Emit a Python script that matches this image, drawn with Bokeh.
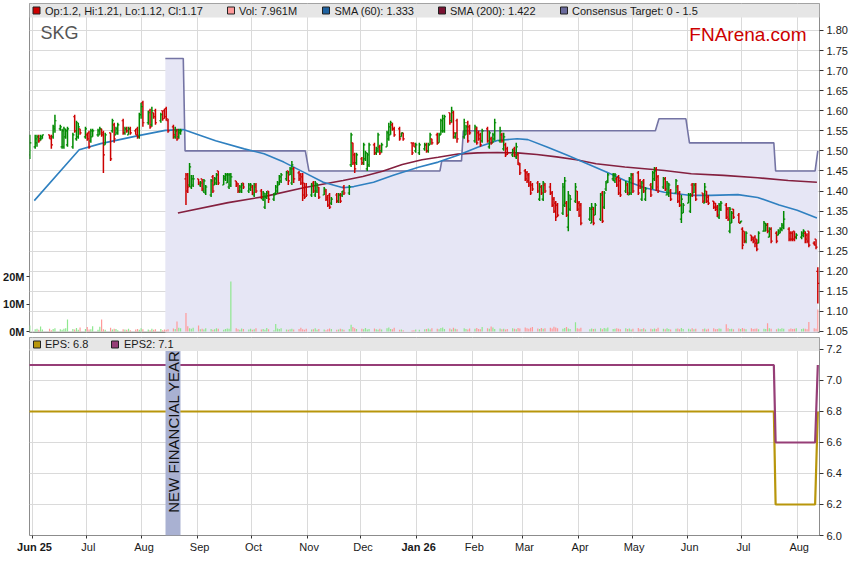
import numpy as np
import pandas as pd
from bokeh.plotting import figure
from bokeh.layouts import column, row
from bokeh.models import (Range1d, LinearAxis, FixedTicker, PrintfTickFormatter,
                          NumeralTickFormatter, BoxAnnotation, Label, ColumnDataSource)
from bokeh.core.properties import value
from bokeh.embed import file_html
from bokeh.resources import INLINE

FONT = "Liberation Sans"

# ---------------- data ----------------
holidays = ["2025-06-09", "2025-12-25", "2025-12-26", "2026-01-01",
            "2026-01-26", "2026-04-03", "2026-04-06", "2026-06-08"]

opens = [
 1.49,1.51,1.52,1.535,1.53,1.53,1.54,1.535,1.535,1.555, 1.555,1.51,1.51,1.535,1.515,1.51,1.585,1.53,1.535,1.555,
 1.535,1.54,1.545,1.525,1.535,1.54,1.54,1.555,1.545,1.515, 1.545,1.55,1.565,1.54,1.545,1.575,1.545,1.555,1.54,1.555,
 1.55,1.555,1.535,1.59,1.62,1.57,1.60,1.565,1.595,1.60, 1.575,1.60,1.60,1.605,1.575,1.56,1.535,1.55,1.535,1.545,
 1.43,1.44,1.415,1.41,1.415,1.43,1.415,1.43,1.40,1.395, 1.39,1.435,1.415,1.42,1.45,1.415,1.43,1.42,
 1.41,1.415,1.425,1.42,1.40,1.40,1.42,1.40,1.405,1.41, 1.39,1.415,1.40,1.38,1.36,1.385,1.40,1.38,1.395,1.40,
 1.415,1.425,1.43,1.45,1.44,1.42,1.455,1.445,1.44,1.435, 1.42,1.41,1.39,1.42,1.39,1.40,1.41,1.39,1.40,1.385,
 1.39,1.37,1.39,1.375,1.39,1.39,1.41,1.395,
 1.465,1.52,1.49,1.47,1.48,1.47,1.48,1.455,1.465,1.515, 1.495,1.50,1.51,1.50,1.51,1.53,1.54,1.565,1.555,1.555,
 1.535,1.545,1.52,1.52,1.50,1.495,
 1.505,1.515,1.50,1.515,1.53,1.54,1.52,1.54,1.55,1.55, 1.595,1.575,1.595,1.535,1.575,1.535,1.54,1.57,1.56,1.525,
 1.555,1.545,1.54,1.525,1.555,1.51,1.53,1.52,1.53,1.525, 1.54,1.505,1.515,1.505,1.49,1.505,1.485,1.49,1.465,1.45,
 1.445,1.44,1.42,1.415,1.42,1.38,1.41,1.38,1.415,1.41, 1.395,1.38,1.37,1.365,1.345,1.365,1.37,1.31,1.355,1.375,
 1.40,1.37,1.365,1.33,1.32,1.355,1.34,1.33,1.395,1.36, 1.405,1.425,1.43,1.425,1.43,
 1.435,1.425,1.40,1.415,1.39,1.395,1.44,1.445,1.425,1.38, 1.425,1.38,1.415,1.41,1.43,1.455,1.435,1.41,1.43,1.39,
 1.39,1.40,1.395,1.41,1.395,1.33,1.345,1.37,1.35,1.415, 1.395,1.415,1.395,1.37,1.40,1.385,1.375,1.37,1.36,1.335,
 1.355,1.365,1.355,1.30,1.32,1.355,1.34,1.32,1.305,1.30, 1.275,1.29,1.285,1.285,1.28,1.27,1.30,1.30,1.315,1.285,
 1.305,1.295,1.29,1.295,1.305,1.31,1.305,1.295,1.295,1.30, 1.285,1.285,1.29,1.295,1.29,1.30,1.27,1.28,1.20]

highs = [
 1.54,1.54,1.54,1.54,1.54,1.54,1.54,1.54,1.565,1.59, 1.565,1.555,1.56,1.555,1.56,1.545,1.59,1.575,1.57,1.555,
 1.56,1.545,1.55,1.555,1.555,1.555,1.56,1.555,1.55,1.545, 1.545,1.58,1.57,1.56,1.57,1.58,1.56,1.56,1.56,1.56,
 1.555,1.56,1.595,1.62,1.625,1.60,1.605,1.61,1.595,1.605, 1.595,1.60,1.605,1.61,1.58,1.565,1.56,1.555,1.555,1.555,
 1.445,1.445,1.47,1.44,1.44,1.43,1.425,1.43,1.43,1.415, 1.43,1.44,1.435,1.445,1.45,1.44,1.445,1.445,
 1.445,1.445,1.425,1.42,1.415,1.42,1.42,1.42,1.42,1.415, 1.42,1.42,1.405,1.40,1.395,1.40,1.40,1.395,1.415,1.425,
 1.44,1.445,1.45,1.45,1.46,1.475,1.46,1.45,1.445,1.445, 1.42,1.42,1.42,1.425,1.425,1.42,1.41,1.41,1.405,1.39,
 1.395,1.385,1.395,1.395,1.395,1.40,1.415,1.415,
 1.545,1.52,1.495,1.495,1.485,1.52,1.50,1.495,1.52,1.52, 1.51,1.545,1.515,1.52,1.55,1.57,1.575,1.57,1.56,1.56,
 1.545,1.545,1.52,1.52,1.52,1.52,
 1.52,1.52,1.52,1.545,1.53,1.545,1.545,1.58,1.59,1.59, 1.595,1.61,1.60,1.545,1.58,1.58,1.565,1.575,1.565,1.565,
 1.56,1.55,1.545,1.555,1.56,1.55,1.535,1.545,1.58,1.56, 1.545,1.545,1.52,1.51,1.505,1.51,1.52,1.495,1.47,1.455,
 1.45,1.445,1.425,1.42,1.425,1.42,1.415,1.425,1.42,1.42, 1.40,1.385,1.375,1.37,1.42,1.435,1.375,1.40,1.39,1.42,
 1.40,1.375,1.37,1.36,1.37,1.36,1.37,1.395,1.40,1.40, 1.425,1.445,1.445,1.445,1.435,
 1.44,1.43,1.425,1.42,1.435,1.445,1.445,1.45,1.43,1.425, 1.43,1.41,1.42,1.45,1.46,1.46,1.44,1.435,1.435,1.425,
 1.42,1.405,1.43,1.415,1.40,1.39,1.37,1.395,1.395,1.42, 1.42,1.42,1.395,1.42,1.40,1.39,1.375,1.37,1.365,1.37,
 1.375,1.37,1.36,1.36,1.35,1.355,1.345,1.325,1.31,1.30, 1.30,1.29,1.285,1.29,1.28,1.30,1.325,1.32,1.32,1.31,
 1.31,1.30,1.305,1.31,1.32,1.35,1.31,1.30,1.30,1.30, 1.295,1.30,1.305,1.30,1.295,1.30,1.275,1.28,1.21]

lows = [
 1.48,1.505,1.51,1.52,1.525,1.53,1.53,1.505,1.53,1.545, 1.55,1.505,1.505,1.53,1.51,1.505,1.545,1.525,1.53,1.54,
 1.53,1.525,1.505,1.52,1.535,1.535,1.54,1.535,1.445,1.515, 1.475,1.545,1.52,1.54,1.54,1.54,1.54,1.545,1.54,1.54,
 1.54,1.53,1.53,1.58,1.56,1.565,1.555,1.56,1.58,1.565, 1.57,1.575,1.58,1.575,1.545,1.53,1.53,1.525,1.53,1.54,
 1.365,1.395,1.41,1.405,1.41,1.415,1.41,1.40,1.395,1.39, 1.385,1.395,1.415,1.415,1.415,1.415,1.425,1.42,
 1.405,1.41,1.41,1.395,1.395,1.395,1.405,1.395,1.40,1.39, 1.385,1.395,1.38,1.375,1.355,1.38,1.37,1.375,1.39,1.395,
 1.415,1.42,1.425,1.415,1.44,1.415,1.42,1.425,1.415,1.375, 1.38,1.385,1.385,1.395,1.385,1.395,1.38,1.39,1.375,1.36,
 1.355,1.365,1.37,1.37,1.37,1.385,1.39,1.39,
 1.46,1.465,1.445,1.465,1.465,1.465,1.475,1.45,1.46,1.49, 1.49,1.495,1.49,1.495,1.51,1.525,1.54,1.55,1.535,1.525,
 1.535,1.525,1.49,1.51,1.495,1.49,
 1.50,1.495,1.495,1.515,1.515,1.515,1.52,1.54,1.545,1.545, 1.565,1.57,1.53,1.53,1.52,1.53,1.54,1.52,1.54,1.52,
 1.515,1.525,1.51,1.52,1.52,1.505,1.515,1.52,1.525,1.52, 1.52,1.50,1.485,1.49,1.485,1.485,1.48,1.465,1.44,1.425,
 1.42,1.41,1.39,1.40,1.395,1.375,1.39,1.375,1.395,1.39, 1.36,1.345,1.325,1.335,1.34,1.36,1.335,1.30,1.35,1.37,
 1.35,1.335,1.315,1.325,1.32,1.315,1.34,1.325,1.32,1.355, 1.40,1.42,1.425,1.42,1.41,
 1.39,1.385,1.395,1.39,1.39,1.39,1.395,1.39,1.405,1.375, 1.395,1.375,1.385,1.405,1.425,1.40,1.395,1.405,1.40,1.39,
 1.385,1.375,1.395,1.37,1.36,1.32,1.345,1.37,1.345,1.385, 1.395,1.375,1.37,1.37,1.37,1.365,1.355,1.35,1.335,1.33,
 1.35,1.33,1.325,1.295,1.32,1.33,1.32,1.32,1.255,1.27, 1.27,1.275,1.27,1.26,1.25,1.27,1.30,1.30,1.295,1.285,
 1.27,1.27,1.29,1.295,1.30,1.305,1.275,1.275,1.275,1.275, 1.28,1.28,1.285,1.27,1.27,1.26,1.265,1.255,1.12]

closes = [
 1.52,1.53,1.535,1.525,1.535,1.54,1.53,1.515,1.56,1.575, 1.56,1.55,1.555,1.55,1.555,1.54,1.55,1.57,1.56,1.545,
 1.555,1.53,1.51,1.55,1.55,1.55,1.555,1.54,1.49,1.54, 1.48,1.575,1.53,1.555,1.565,1.545,1.555,1.55,1.555,1.545,
 1.54,1.535,1.59,1.61,1.57,1.595,1.56,1.60,1.585,1.57, 1.59,1.58,1.585,1.58,1.55,1.54,1.55,1.53,1.55,1.55,
 1.40,1.41,1.46,1.43,1.43,1.42,1.42,1.405,1.425,1.41, 1.425,1.40,1.43,1.44,1.42,1.435,1.44,1.44,
 1.44,1.435,1.415,1.40,1.41,1.415,1.41,1.415,1.415,1.395, 1.41,1.40,1.385,1.395,1.385,1.395,1.38,1.39,1.41,1.42,
 1.435,1.44,1.445,1.425,1.455,1.465,1.43,1.43,1.42,1.39, 1.385,1.39,1.415,1.40,1.42,1.415,1.385,1.405,1.38,1.365,
 1.36,1.38,1.375,1.39,1.375,1.40,1.395,1.41,
 1.54,1.47,1.455,1.49,1.47,1.515,1.495,1.49,1.515,1.495, 1.505,1.54,1.495,1.515,1.545,1.56,1.57,1.555,1.54,1.53,
 1.545,1.53,1.495,1.51,1.515,1.515,
 1.515,1.50,1.515,1.54,1.52,1.52,1.54,1.575,1.58,1.585, 1.57,1.60,1.545,1.545,1.53,1.57,1.56,1.525,1.545,1.56,
 1.52,1.53,1.515,1.55,1.525,1.545,1.52,1.54,1.57,1.55, 1.525,1.535,1.49,1.495,1.50,1.49,1.51,1.47,1.445,1.43,
 1.425,1.415,1.395,1.405,1.40,1.41,1.395,1.42,1.40,1.395, 1.365,1.35,1.335,1.34,1.41,1.425,1.34,1.39,1.38,1.41,
 1.355,1.34,1.32,1.355,1.36,1.32,1.365,1.39,1.325,1.395, 1.42,1.44,1.44,1.44,1.415,
 1.395,1.39,1.42,1.395,1.43,1.44,1.40,1.395,1.41,1.42, 1.40,1.405,1.39,1.445,1.45,1.41,1.40,1.43,1.405,1.42,
 1.415,1.38,1.425,1.375,1.365,1.38,1.365,1.39,1.39,1.39, 1.415,1.38,1.375,1.41,1.375,1.37,1.36,1.355,1.34,1.365,
 1.37,1.335,1.33,1.355,1.345,1.335,1.32,1.325,1.265,1.275, 1.295,1.28,1.275,1.27,1.255,1.295,1.32,1.315,1.30,1.305,
 1.275,1.275,1.30,1.305,1.315,1.33,1.28,1.28,1.28,1.285, 1.29,1.295,1.30,1.28,1.275,1.265,1.265,1.26,1.17]

volumes_m = [
 2.2,0.8,1.0,0.6,1.8,0.7,1.0,0.5,0.9,1.2, 0.8,0.6,1.0,1.2,4.4,0.9,0.7,1.3,0.6,1.5,
 0.9,1.6,0.7,0.8,1.9,0.6,1.7,4.4,0.8,0.6, 1.4,0.7,1.0,0.9,0.5,0.8,0.7,0.6,1.0,0.5,
 0.7,0.9,0.6,1.2,0.8,0.7,0.5,1.0,0.6,0.8, 0.9,0.5,0.7,0.6,0.8,1.1,0.9,3.6,1.4,1.2,
 6.7,1.9,1.2,1.0,1.4,2.2,0.8,1.0,0.7,1.2, 0.9,0.6,0.8,1.2,1.0,0.6,0.9,1.1,
 1.0,18.2,1.2,0.8,0.6,1.1,0.9,0.7,1.0,0.6, 0.8,1.2,0.7,0.9,0.6,1.3,0.8,0.5,2.7,1.1,
 0.9,1.2,0.7,0.6,0.8,1.0,0.7,0.9,1.4,0.8, 0.6,1.0,0.7,0.8,1.2,0.6,0.9,0.7,0.5,0.8,
 1.1,0.9,0.6,0.7,1.0,0.8,0.6,0.9,
 2.5,1.6,1.2,0.9,1.0,0.8,1.3,0.7,0.9,1.1, 0.8,0.6,1.0,0.7,1.2,1.5,0.9,0.8,1.4,0.6,
 0.7,0.5,0.4,0.5,0.7,0.6,
 0.8,0.9,1.1,0.7,1.2,1.0,0.8,1.3,1.5,0.9, 1.1,0.7,1.4,1.0,0.8,1.2,0.9,0.7,1.1,1.0,
 1.3,0.9,0.8,1.6,1.2,1.0,1.8,1.5,0.9,1.1, 0.8,1.0,0.7,0.9,1.2,1.0,0.8,1.3,1.1,1.5,
 1.2,1.0,1.4,1.6,1.1,0.9,1.3,1.0,1.2,1.4, 1.1,1.7,1.5,1.2,1.0,1.3,1.6,1.1,0.9,3.4,
 1.2,1.0,1.4,0.8,1.1,0.9,1.0,1.2,0.8,1.3, 1.1,1.5,0.9,1.0,1.2,
 1.0,0.8,1.2,0.9,1.1,0.7,1.0,1.3,0.8,0.9, 1.2,0.7,1.0,0.8,1.1,0.9,1.4,1.0,0.8,1.2,
 0.9,0.7,1.0,1.1,0.8,1.3,0.9,1.0,0.7,1.2, 0.8,1.0,0.9,1.1,0.7,1.0,1.2,0.8,0.9,1.1,
 1.0,2.6,1.2,0.9,1.0,0.8,1.1,0.9,1.3,1.0, 0.8,1.2,0.9,1.0,1.1,0.8,1.0,0.9,3.0,1.2,
 1.0,0.8,1.1,0.9,1.2,1.0,0.8,1.1,0.9,1.0, 1.2,0.9,1.1,1.0,0.8,3.5,1.2,1.0,7.961]

sma60_dates = ["2025-06-02","2025-06-27","2025-07-09","2025-07-30","2025-08-14","2025-08-24",
               "2025-09-11","2025-09-27","2025-10-08","2025-10-19","2025-10-30","2025-11-10",
               "2025-11-21","2025-11-27","2025-12-08","2025-12-19","2026-01-02","2026-01-13",
               "2026-01-24","2026-02-04","2026-02-15","2026-02-26","2026-03-04","2026-03-15",
               "2026-03-26","2026-04-06","2026-04-17","2026-04-27","2026-05-08","2026-05-19",
               "2026-06-03","2026-06-14","2026-06-29","2026-07-10","2026-07-22","2026-08-01",
               "2026-08-12"]
sma60_vals = [1.376,1.503,1.518,1.538,1.551,1.553,1.525,1.505,1.493,1.472,1.447,1.422,
              1.408,1.411,1.422,1.439,1.459,1.472,1.489,1.509,1.526,1.530,1.528,1.509,
              1.489,1.468,1.447,1.426,1.408,1.397,1.389,1.389,1.391,1.384,1.365,1.352,1.333]

sma200_dates = ["2025-08-21","2025-09-18","2025-10-08","2025-10-30","2025-11-21","2025-12-02",
                "2025-12-13","2025-12-24","2026-01-04","2026-01-13","2026-01-24","2026-02-04",
                "2026-02-15","2026-02-26","2026-03-09","2026-03-20","2026-03-31","2026-04-11",
                "2026-04-27","2026-05-19","2026-06-03","2026-06-21","2026-07-10","2026-07-27",
                "2026-08-12"]
sma200_vals = [1.345,1.371,1.386,1.408,1.426,1.436,1.449,1.466,1.478,1.484,1.492,1.495,
               1.496,1.495,1.491,1.485,1.478,1.468,1.460,1.451,1.443,1.439,1.433,1.426,1.422]

target_dates = ["2025-08-14","2025-08-24","2025-08-25","2025-10-31","2025-11-02","2026-01-14",
                "2026-01-15","2026-01-26","2026-01-27","2026-05-14","2026-05-16","2026-05-31",
                "2026-06-02","2026-07-19","2026-07-20","2026-08-11","2026-08-12T12:00"]
target_vals = [1.73,1.73,1.50,1.50,1.45,1.45,1.475,1.475,1.55,1.55,1.58,1.58,
               1.52,1.52,1.45,1.45,1.50]

eps_dates = ["2025-05-29","2026-07-19","2026-07-20","2026-08-11","2026-08-12T12:00"]
eps_vals = [6.8, 6.8, 6.2, 6.2, 6.8]
eps2_vals = [7.1, 7.1, 6.6, 6.6, 7.1]

price_ticks = [1.05,1.10,1.15,1.20,1.25,1.30,1.35,1.40,1.45,1.50,1.55,1.60,1.65,1.70,1.75,1.80]
eps_ticks = [6.0,6.2,6.4,6.6,6.8,7.0,7.2]
vol_ticks = [0, 10, 20]
month_starts = ["2025-06-01","2025-07-01","2025-08-01","2025-09-01","2025-10-01","2025-11-01",
                "2025-12-01","2026-01-01","2026-02-01","2026-03-01","2026-04-01","2026-05-01",
                "2026-06-01","2026-07-01","2026-08-01"]
month_labels = ["Jun 25","Jul","Aug","Sep","Oct","Nov","Dec","Jan 26","Feb","Mar","Apr",
                "May","Jun","Jul","Aug"]
bold_labels = {"Jun 25", "Jan 26"}

# ---------------- helpers ----------------
def at(px):
    """page pixel column -> date (used only to place decorations)"""
    return pd.Timestamp("2025-06-01") + pd.Timedelta(days=(px - 34) / 1.795)

def ms(ts):
    return pd.Timestamp(ts).value / 1e6

def to_dt(lst):
    return pd.DatetimeIndex([pd.Timestamp(s) for s in lst])

def style_axis(ax, size="11px", bold=False, standoff=3):
    ax.axis_line_color = None
    ax.major_tick_line_color = "#333333"
    ax.major_tick_out = 4
    ax.major_tick_in = 0
    ax.minor_tick_line_color = None
    ax.major_label_text_font = FONT
    ax.major_label_text_font_size = size
    ax.major_label_text_color = "#1a1a1a"
    ax.major_label_standoff = standoff
    if bold:
        ax.major_label_text_font_style = "bold"

days = pd.bdate_range("2025-05-30", "2026-08-12")
days = days[~days.isin(to_dt(holidays))]
bx = days + pd.Timedelta(hours=12)
o = np.array(opens); c = np.array(closes)
up = c >= o
src = ColumnDataSource(dict(
    x=bx, x0=bx - pd.Timedelta(hours=21), x1=bx + pd.Timedelta(hours=21),
    o=o, h=np.array(highs), l=np.array(lows), c=c,
    col=np.where(up, "#008a00", "#cc0000"),
    vol=np.array(volumes_m), vcol=np.where(up, "#8fe88f", "#ff9a9a")))

month_ms = [ms(m) for m in month_starts]
xr = Range1d(start=at(31), end=at(821))

# ---------------- main price panel ----------------
PTOP = 1.0475 + 329 / 401.4
p = figure(x_axis_type="datetime", x_range=xr, y_range=Range1d(1.0475, PTOP),
           frame_width=790, frame_height=329, x_axis_location=None, y_axis_location="right",
           min_border_left=23, min_border_right=32, min_border_top=3, min_border_bottom=5,
           output_backend="svg", toolbar_location=None,
           background_fill_color="white", border_fill_color="white")
p.outline_line_color = "#8c8c8c"
p.extra_y_ranges = {"vol": Range1d(-0.36, -0.36 + 329 / 2.75)}

ya = p.yaxis[0]
ya.ticker = FixedTicker(ticks=price_ticks)
ya.formatter = NumeralTickFormatter(format="0.00")
style_axis(ya)

va = LinearAxis(y_range_name="vol", ticker=FixedTicker(ticks=vol_ticks),
                formatter=PrintfTickFormatter(format="%dM"))
style_axis(va, size="11px", bold=True, standoff=2)
va.major_tick_out = 3
p.add_layout(va, "left")

p.xgrid.ticker = FixedTicker(ticks=month_ms)
p.ygrid.ticker = FixedTicker(ticks=price_ticks)
p.xgrid.grid_line_color = "#dadada"
p.ygrid.grid_line_color = "#dadada"

tx = to_dt(target_dates)
p.varea(x=tx, y1=1.0, y2=target_vals, fill_color="#e6e6f5")
p.segment(x0="x", y0=0, x1="x", y1="vol", y_range_name="vol", line_color="vcol",
          line_width=1.2, source=src)
p.line(tx, target_vals, line_color="#7474a4", line_width=1.6)
p.line(to_dt(sma200_dates), sma200_vals, line_color="#84203f", line_width=1.6)
p.line(to_dt(sma60_dates), sma60_vals, line_color="#2f80c0", line_width=1.6)
p.segment(x0="x", y0="l", x1="x", y1="h", line_color="col", line_width=1.5, source=src)
p.segment(x0="x0", y0="o", x1="x", y1="o", line_color="col", line_width=1.2, source=src)
p.segment(x0="x", y0="c", x1="x1", y1="c", line_color="col", line_width=1.2, source=src)

p.text(x=[at(42)], y=[1.7925], text=["SKG"], text_font=value(FONT), text_font_size="18px",
       text_color="#555555", text_baseline="middle", text_align="left")
p.text(x=[at(808)], y=[1.7905], text=["FNArena.com"], text_font=value(FONT),
       text_font_size="19px", text_color="#cc0000", text_baseline="middle", text_align="right")

p.add_layout(BoxAnnotation(bottom=PTOP - 14 / 401.4, fill_color="#e6e6e6", fill_alpha=1.0,
                           line_color=None))
leg_y = PTOP - 7 / 401.4
sq = p.scatter(x=[at(38), at(232.5), at(327.5), at(443.5), at(565.5)], y=[leg_y] * 5,
               marker="square", size=7,
               fill_color=["#cc0000", "#ff9a9a", "#1f62a0", "#7a1232", "#6a6a9c"],
               line_color="#222222", line_width=1)
sq.level = "overlay"
lt = p.text(x=[at(46.5), at(240.5), at(336), at(451.5), at(573.5)], y=[leg_y] * 5,
            text=["Op:1.2, Hi:1.21, Lo:1.12, Cl:1.17", "Vol: 7.961M", "SMA (60): 1.333",
                  "SMA (200): 1.422", "Consensus Target: 0 - 1.5"],
            text_font=value(FONT), text_font_size="11px", text_color="#1a1a1a",
            text_baseline="middle", text_align="left")
lt.level = "overlay"

# ---------------- EPS panel ----------------
q = figure(x_axis_type="datetime", x_range=xr, y_range=Range1d(6.0, 7.2774),
           frame_width=790, frame_height=198, y_axis_location="right",
           min_border_left=23, min_border_right=32, min_border_top=0, min_border_bottom=6,
           output_backend="svg", toolbar_location=None,
           background_fill_color="white", border_fill_color="white")
q.outline_line_color = "#8c8c8c"
qy = q.yaxis[0]
qy.ticker = FixedTicker(ticks=eps_ticks)
qy.formatter = NumeralTickFormatter(format="0.0")
style_axis(qy)
qx = q.xaxis[0]
qx.ticker = FixedTicker(ticks=month_ms)
qx.major_label_overrides = {m: "" for m in month_ms}
style_axis(qx, size="1px", standoff=0)
qx.major_tick_out = 3

q.xgrid.ticker = FixedTicker(ticks=month_ms)
q.ygrid.ticker = FixedTicker(ticks=eps_ticks)
q.xgrid.grid_line_color = "#dadada"
q.ygrid.grid_line_color = "#dadada"

ex = to_dt(eps_dates)
q.line(ex, eps_vals, line_color="#b8960b", line_width=2.2)
q.line(ex, eps2_vals, line_color="#963e77", line_width=2.2)

q.add_layout(BoxAnnotation(left=ms(at(167)), right=ms(at(182)), fill_color="#a9b1d2",
                           fill_alpha=1.0, line_color=None))
q.add_layout(Label(x=ms(at(175)), y=6.0 + (535 - 431) / 155.0, text="NEW FINANCIAL YEAR",
                   angle=np.pi / 2, text_align="center", text_baseline="middle",
                   text_font=FONT, text_font_size="15px", text_color="#111111"))
q.add_layout(BoxAnnotation(bottom=7.19, fill_color="#e6e6e6", fill_alpha=1.0, line_color=None))
eps_leg_y = 6.0 + (535 - 344) / 155.0
sq2 = q.scatter(x=[at(38.5), at(116.5)], y=[eps_leg_y] * 2, marker="square", size=7,
                fill_color=["#b8960b", "#963e77"], line_color="#222222", line_width=1)
sq2.level = "overlay"
lt2 = q.text(x=[at(46.5), at(125.5)], y=[eps_leg_y] * 2, text=["EPS: 6.8", "EPS2: 7.1"],
             text_font=value(FONT), text_font_size="11px", text_color="#1a1a1a",
             text_baseline="middle", text_align="left")
lt2.level = "overlay"

# ---------------- month label strip (date axis labels) ----------------
s = figure(x_axis_type="datetime", x_range=Range1d(at(0), at(843)), y_range=Range1d(0, 14),
           frame_width=843, frame_height=14, min_border=0,
           x_axis_location=None, y_axis_location=None,
           output_backend="svg", toolbar_location=None,
           background_fill_color="white", border_fill_color="white")
s.outline_line_color = None
s.grid.visible = False
norm = [(pd.Timestamp(m), lab) for m, lab in zip(month_starts, month_labels) if lab not in bold_labels]
bold = [(pd.Timestamp(m), lab) for m, lab in zip(month_starts, month_labels) if lab in bold_labels]
s.text(x=[d for d, _ in norm], y=[9] * len(norm), text=[l for _, l in norm],
       text_font=value(FONT), text_font_size="11px", text_color="#1a1a1a",
       text_align="center", text_baseline="middle")
s.text(x=[d for d, _ in bold], y=[9] * len(bold), text=[l for _, l in bold],
       text_font=value(FONT), text_font_size="11px", text_color="#1a1a1a",
       text_font_style="bold", text_align="center", text_baseline="middle")

layout = column(p, q, row(s), spacing=0)
open("out.html", "w").write(file_html(layout, INLINE))
